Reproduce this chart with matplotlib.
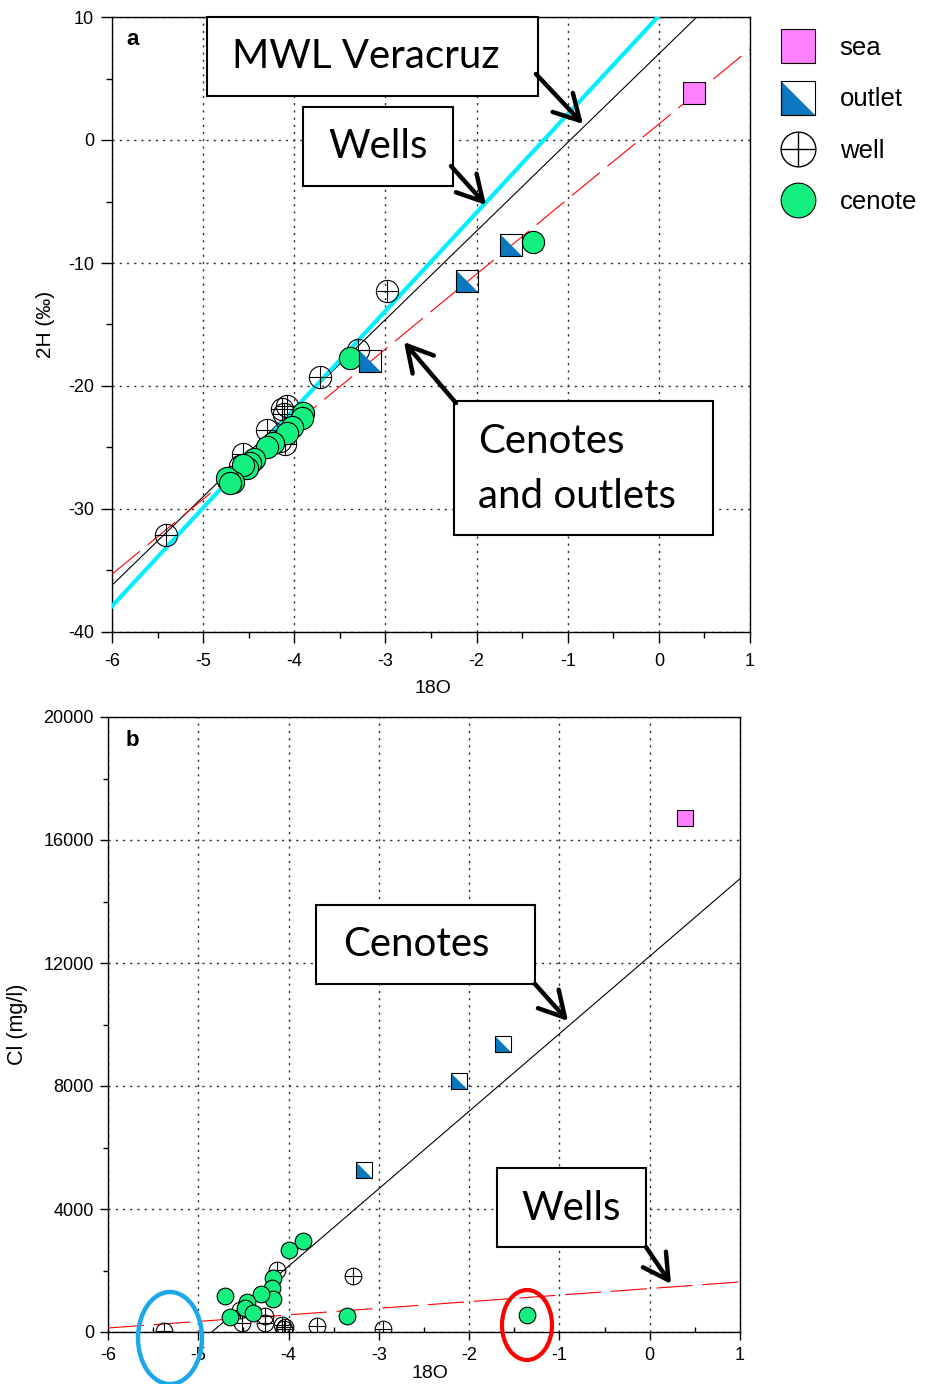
import numpy as np
import matplotlib
matplotlib.use("Agg")
import matplotlib.pyplot as plt
from matplotlib.lines import Line2D
from matplotlib.patches import Rectangle, Ellipse, FancyArrowPatch
from matplotlib.ticker import MultipleLocator

plt.rcParams['font.family'] = ['Liberation Sans', 'DejaVu Sans']
plt.rcParams['lines.scale_dashes'] = False
plt.rcParams['axes.unicode_minus'] = False

W, H = 932, 1384

# ---- panel a: d18O vs d2H ----
sea_o18 = [0.39]
sea_h2 = [3.8]
outlet_o18 = [-1.62, -2.11, -3.17]
outlet_h2 = [-8.5, -11.5, -18.0]
well_o18_a = [-2.98, -3.30, -3.72, -5.41, -4.13, -4.08, -4.11, -4.30, -4.56, -4.60, -4.16, -4.10]
well_h2_a = [-12.3, -17.1, -19.3, -32.1, -21.9, -21.6, -22.3, -23.6, -25.5, -26.5, -24.5, -24.7]
cen_o18_a = [-1.38, -3.39, -3.90, -3.92, -4.02, -4.08, -4.23, -4.30, -4.44, -4.49, -4.52, -4.56, -4.67, -4.74, -4.70]
cen_h2_a = [-8.3, -17.7, -22.2, -22.6, -23.3, -23.8, -24.6, -25.0, -25.9, -26.3, -26.7, -26.4, -27.8, -27.5, -27.9]

# regression lines (slope, intercept)
mwl_fit = (7.2, 7.0)
wells_fit_a = (8.0, 10.1)
cenotes_fit_a = (6.1, 1.3)

# ---- panel b: d18O vs Cl ----
sea_cl = [16700]
outlet_cl = [9370, 8160, 5270]
cen_o18_b = [-1.36, -3.35, -3.84, -4.00, -4.17, -4.18, -4.17, -4.31, -4.70, -4.46, -4.48, -4.39, -4.65]
cen_cl_b = [550, 520, 2960, 2670, 1760, 1430, 1070, 1240, 1170, 980, 780, 620, 490]
well_o18_b = [-5.38, -4.13, -3.29, -4.54, -4.52, -4.26, -4.26, -4.07, -4.04, -4.05, -3.69, -2.95]
well_cl_b = [30, 2020, 1820, 720, 290, 520, 290, 230, 160, 100, 200, 100]

cenotes_fit_b = (2520, 12220)
wells_fit_b = (214, 1414)

SEA = '#ff80ff'
BLUE = '#0a78be'
GREEN = '#14f080'


def fp(x, y):
    return (x / W, 1 - y / H)


tri = [(-1, 1), (-1, -1), (1, -1)]


def draw_points(ax, so, sv, oo, ov, wo, wv, co, cv, ms):
    ax.plot(wo, wv, 'o', ms=ms, mfc='none', mec='k', mew=0.8, zorder=4)
    ax.plot(wo, wv, '+', ms=ms, mec='k', mew=0.8, zorder=4)
    ax.plot(co, cv, 'o', ms=ms, mfc=GREEN, mec='k', mew=0.8, zorder=5)
    ax.plot(oo, ov, ls='none', marker=tri, ms=ms, mfc=BLUE, mec='k', mew=0.6, zorder=6)
    ax.plot(oo, ov, 's', ms=ms, mfc='none', mec='k', mew=0.8, zorder=6)
    ax.plot(so, sv, 's', ms=ms, mfc=SEA, mec='k', mew=0.8, zorder=6)


def style_axes(ax, xminor_dir):
    for s in ax.spines.values():
        s.set_linewidth(1.0)
    ax.xaxis.set_major_locator(MultipleLocator(1))
    ax.xaxis.set_minor_locator(MultipleLocator(0.5))
    ax.tick_params(which='major', direction='out', length=6, width=1, labelsize=13)
    ax.tick_params(which='minor', direction='out', length=3.5, width=1)
    ax.tick_params(axis='x', which='minor', direction=xminor_dir)
    ax.grid(True, which='major', color='#333333', lw=1.0, ls=(0, (1.6, 3.6)))
    ax.set_axisbelow(True)


fig = plt.figure(figsize=(W / 100, H / 100), dpi=100)

ax1 = fig.add_axes([112 / W, 1 - 632 / H, 638 / W, 615 / H])
ax2 = fig.add_axes([108 / W, 1 - 1332 / H, 632 / W, 615 / H])

xs = np.array([-6.0, 1.0])
dash = (0, (26, 7))

# panel a
ax1.plot(xs, mwl_fit[0] * xs + mwl_fit[1], color='k', lw=0.8, zorder=3)
ax1.plot(xs, wells_fit_a[0] * xs + wells_fit_a[1], color='#00f0ff', lw=3, zorder=3)
ax1.plot(xs, cenotes_fit_a[0] * xs + cenotes_fit_a[1], color='red', lw=0.8, ls=dash, zorder=3)
draw_points(ax1, sea_o18, sea_h2, outlet_o18, outlet_h2, well_o18_a, well_h2_a,
            cen_o18_a, cen_h2_a, 16)
ax1.set_xlim(-6, 1)
ax1.set_ylim(-40, 10)
ax1.yaxis.set_major_locator(MultipleLocator(10))
ax1.yaxis.set_minor_locator(MultipleLocator(5))
style_axes(ax1, 'out')
ax1.tick_params(which='major', length=8)
ax1.tick_params(which='minor', length=4.5)
ax1.tick_params(axis='y', which='major', pad=5)
ax1.tick_params(axis='x', which='major', pad=7)
ax1.set_xlabel('18O', fontsize=14)
ax1.set_ylabel('2H (‰)', fontsize=15)
ax1.xaxis.set_label_coords(0.503, -0.078)
ax1.yaxis.set_label_coords(-0.089, 0.5)
ax1.text(0.022, 0.963, 'a', transform=ax1.transAxes, fontsize=16, fontweight='bold',
         ha='left', va='center')

# panel b
xb0 = -cenotes_fit_b[1] / cenotes_fit_b[0]
xb = np.array([xb0, 1.0])
ax2.plot(xb, cenotes_fit_b[0] * xb + cenotes_fit_b[1], color='k', lw=0.8, zorder=3)
ax2.plot(xs, wells_fit_b[0] * xs + wells_fit_b[1], color='red', lw=0.8, ls=dash, zorder=3)
draw_points(ax2, sea_o18, sea_cl, outlet_o18, outlet_cl, well_o18_b, well_cl_b,
            cen_o18_b, cen_cl_b, 12)
ax2.set_xlim(-6, 1)
ax2.set_ylim(0, 20000)
ax2.yaxis.set_major_locator(MultipleLocator(4000))
ax2.yaxis.set_minor_locator(MultipleLocator(2000))
style_axes(ax2, 'in')
ax2.tick_params(axis='x', which='major', pad=5)
ax2.tick_params(axis='y', which='major', pad=4)
ax2.set_xlabel('18O', fontsize=14)
ax2.set_ylabel('Cl (mg/l)', fontsize=15.5)
ax2.xaxis.set_label_coords(0.51, -0.054)
ax2.yaxis.set_label_coords(-0.127, 0.5)
ax2.text(0.028, 0.961, 'b', transform=ax2.transAxes, fontsize=16, fontweight='bold',
         ha='left', va='center')

# annotation boxes with arrows
boxes = [
    ((207, 17, 538, 96), 'MWL Veracruz', (366, 57), (536, 74), (583, 124)),
    ((303, 107, 453, 186), 'Wells', (378, 147), (451, 166), (486, 205)),
    ((454, 401, 713, 535), 'Cenotes\nand outlets', (478, 469), (456, 403), (404, 342)),
    ((316, 905, 535, 984), 'Cenotes', (416, 945), (535, 984), (568, 1021)),
    ((497, 1168, 646, 1247), 'Wells', (571, 1208), (646, 1247), (671, 1284)),
]
for (x0, y0, x1, y1), label, tpos, tail, head in boxes:
    bl = fp(x0, y1)
    fig.add_artist(Rectangle(bl, (x1 - x0) / W, (y1 - y0) / H, transform=fig.transFigure,
                             facecolor='white', edgecolor='k', lw=1.5, zorder=10))
    ha = 'left' if '\n' in label else 'center'
    fig.text(*fp(*tpos), label, fontsize=29, family='Lato', ha=ha, va='center',
             linespacing=1.6, zorder=11)
    fig.add_artist(FancyArrowPatch(
        fp(*tail), fp(*head), transform=fig.transFigure,
        arrowstyle='->,head_length=0.9,head_width=0.5', mutation_scale=20,
        lw=3.2, color='k', shrinkA=0, shrinkB=0, zorder=12))

# highlight ellipses
fig.add_artist(Ellipse(fp(170, 1338), 64 / W, 92 / H, transform=fig.transFigure,
                       fill=False, edgecolor='#1ba8ea', lw=3.2, zorder=12))
fig.add_artist(Ellipse(fp(527, 1325), 50 / W, 70 / H, transform=fig.transFigure,
                       fill=False, edgecolor='red', lw=3.0, zorder=12))

# legend
h_sea = Line2D([], [], ls='none', marker='s', ms=25, mfc=SEA, mec='k', mew=0.8)
h_out = (Line2D([], [], ls='none', marker=tri, ms=25, mfc=BLUE, mec='k', mew=0.8),
         Line2D([], [], ls='none', marker='s', ms=25, mfc='none', mec='k', mew=0.8))
h_well = (Line2D([], [], ls='none', marker='o', ms=25, mfc='none', mec='k', mew=1.0),
          Line2D([], [], ls='none', marker='+', ms=25, mec='k', mew=1.0))
h_cen = Line2D([], [], ls='none', marker='o', ms=25, mfc=GREEN, mec='k', mew=0.8)
fig.legend([h_sea, h_out, h_well, h_cen], ['sea', 'outlet', 'well', 'cenote'],
           loc='upper left', bbox_to_anchor=fp(778, 36), frameon=False, fontsize=18.5,
           borderpad=0, borderaxespad=0, handlelength=1.55, handletextpad=0.85,
           labelspacing=1.07)

fig.savefig('out.png', dpi=100)
